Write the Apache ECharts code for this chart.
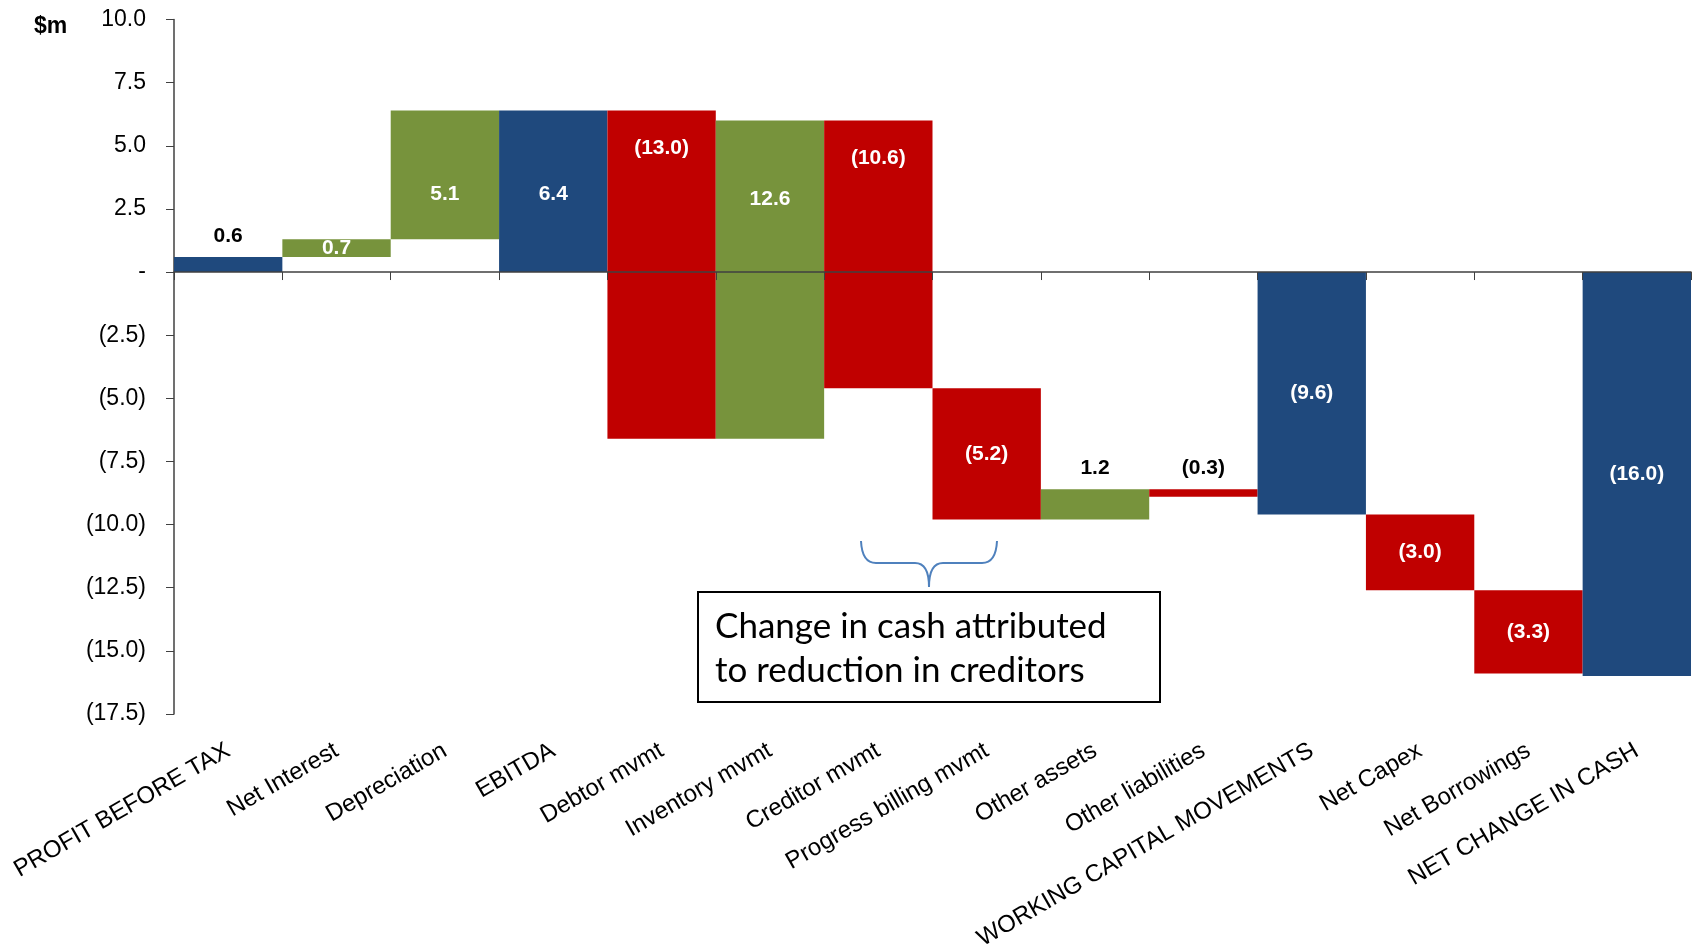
<!DOCTYPE html>
<html>
<head>
<meta charset="utf-8">
<script src="https://cdn.jsdelivr.net/npm/echarts@6/dist/echarts.min.js"></script>
<style>
  html, body { margin: 0; padding: 0; background: #ffffff; }
  #chart { width: 1694px; height: 951px; }
</style>
</head>
<body>
<div id="chart"></div>
<script>
// Cash-flow bridge, $m
const categories = [
  'PROFIT BEFORE TAX', 'Net Interest', 'Depreciation', 'EBITDA',
  'Debtor mvmt', 'Inventory mvmt', 'Creditor mvmt', 'Progress billing mvmt',
  'Other assets', 'Other liabilities', 'WORKING CAPITAL MOVEMENTS',
  'Net Capex', 'Net Borrowings', 'NET CHANGE IN CASH'
];
const changes = [0.6, 0.7, 5.1, 6.4, -13.0, 12.6, -10.6, -5.2, 1.2, -0.3, -9.6, -3.0, -3.3, -16.0];
// Bars that show a running total measured from zero
const subtotals = ['PROFIT BEFORE TAX', 'EBITDA', 'WORKING CAPITAL MOVEMENTS', 'NET CHANGE IN CASH'];
const yMin = -17.5;
const yMax = 10;
const yStep = 2.5;

const COLORS = { total: '#1F497D', up: '#77933C', down: '#C00000' };
const FONT = '"Liberation Sans", Arial, sans-serif';

// Where each value label sits relative to its bar (default: middle of the bar)
const labelRule = {
  'PROFIT BEFORE TAX': 'above',
  'Other assets': 'above',
  'Other liabilities': 'above',
  'Depreciation': 'zeroMid',
  'EBITDA': 'zeroMid',
  'Inventory mvmt': 'zeroMid',
  'Debtor mvmt': 'nearTop',
  'Creditor mvmt': 'nearTop'
};

// Floating bars: [index, low, high, change, isSubtotal]
let level = 0;
const bars = changes.map((v, i) => {
  const isTotal = subtotals.includes(categories[i]);
  const start = isTotal ? 0 : level;
  const end = start + v;
  level = end;
  return [i, Math.min(start, end), Math.max(start, end), v, isTotal ? 1 : 0];
});

function money(v) {
  if (Math.abs(v) < 1e-9) return '-';
  return v < 0 ? '(' + Math.abs(v).toFixed(1) + ')' : v.toFixed(1);
}

function renderBar(params, api) {
  const i = api.value(0);
  const lo = api.value(1);
  const hi = api.value(2);
  const v = api.value(3);
  const isTotal = api.value(4) === 1;
  const top = api.coord([i, hi]);
  const bot = api.coord([i, lo]);
  const zeroY = api.coord([i, 0])[1];
  const w = api.size([1, 0])[0];
  const fill = isTotal ? COLORS.total : (v >= 0 ? COLORS.up : COLORS.down);

  const rule = labelRule[categories[i]] || 'middle';
  let ly;
  let textFill = '#ffffff';
  if (rule === 'above') { ly = top[1] - 21; textFill = '#000000'; }
  else if (rule === 'nearTop') { ly = top[1] + 38; }
  else if (rule === 'zeroMid') { ly = (top[1] + zeroY) / 2 + 3; }
  else { ly = (top[1] + bot[1]) / 2; }

  return {
    type: 'group',
    children: [
      {
        type: 'rect',
        shape: { x: top[0] - w / 2, y: top[1], width: w, height: bot[1] - top[1] },
        style: { fill: fill }
      },
      {
        type: 'text',
        z2: 10,
        style: {
          text: money(v), x: top[0], y: ly, fill: textFill,
          fontSize: 21, fontWeight: 'bold', fontFamily: FONT,
          align: 'center', verticalAlign: 'middle'
        }
      }
    ]
  };
}

// Curly brace under the creditor / progress billing bars
const braceStyle = { stroke: '#4F81BD', lineWidth: 2, fill: 'none' };
const brace = [
  { type: 'bezierCurve', shape: { x1: 861, y1: 541, cpx1: 862, cpy1: 563, x2: 876, y2: 563 } },
  { type: 'line', shape: { x1: 876, y1: 563, x2: 915, y2: 563 } },
  { type: 'bezierCurve', shape: { x1: 915, y1: 563, cpx1: 929, cpy1: 563, x2: 929, y2: 587 } },
  { type: 'bezierCurve', shape: { x1: 929, y1: 587, cpx1: 929, cpy1: 563, x2: 943, y2: 563 } },
  { type: 'line', shape: { x1: 943, y1: 563, x2: 982, y2: 563 } },
  { type: 'bezierCurve', shape: { x1: 982, y1: 563, cpx1: 996, cpy1: 563, x2: 997, y2: 541 } }
].map(e => Object.assign(e, { style: braceStyle }));

const chart = echarts.init(document.getElementById('chart'), null, { renderer: 'canvas' });
chart.setOption({
  animation: false,
  backgroundColor: '#ffffff',
  grid: { left: 174, right: 3, top: 19.5, bottom: 237, containLabel: false, outerBoundsMode: 'none' },
  xAxis: [
    {
      // zero line with a tick between every pair of categories
      type: 'category', data: categories, position: 'bottom', z: 10,
      axisLine: { show: true, onZero: true, lineStyle: { color: '#404040', width: 1.5 } },
      axisTick: { show: true, interval: 0, length: 8, lineStyle: { color: '#404040' } },
      axisLabel: { show: false }, splitLine: { show: false }
    },
    {
      // category names along the bottom
      type: 'category', data: categories, position: 'bottom',
      axisLine: { show: false, onZero: false }, axisTick: { show: false },
      axisLabel: { show: true, interval: 0, rotate: 30, margin: 35, fontSize: 24, color: '#000000', fontFamily: FONT },
      splitLine: { show: false }
    }
  ],
  yAxis: {
    type: 'value', min: yMin, max: yMax, interval: yStep,
    axisLine: { show: true, onZero: false, lineStyle: { color: '#404040', width: 1.5 } },
    axisTick: { show: true, length: 8, lineStyle: { color: '#404040' } },
    splitLine: { show: false },
    axisLabel: { formatter: money, fontSize: 23, color: '#000000', fontFamily: FONT, margin: 28 }
  },
  series: [{
    type: 'custom',
    xAxisIndex: 0,
    renderItem: renderBar,
    encode: { x: 0, y: [1, 2] },
    data: bars
  }],
  graphic: [
    {
      type: 'text', x: 34, y: 15,
      style: { text: '$m', fontSize: 23, fontWeight: 'bold', fontFamily: FONT, fill: '#000000' }
    },
    ...brace,
    {
      type: 'rect',
      shape: { x: 698, y: 592, width: 462, height: 110 },
      style: { fill: '#ffffff', stroke: '#000000', lineWidth: 2 }
    },
    {
      type: 'text', x: 715, y: 605,
      style: {
        text: 'Change in cash attributed\nto reduction in creditors',
        fontSize: 35, fontFamily: 'Lato, "Open Sans", sans-serif', lineHeight: 44,
        fill: '#000000', verticalAlign: 'top'
      }
    }
  ]
});
</script>
</body>
</html>
